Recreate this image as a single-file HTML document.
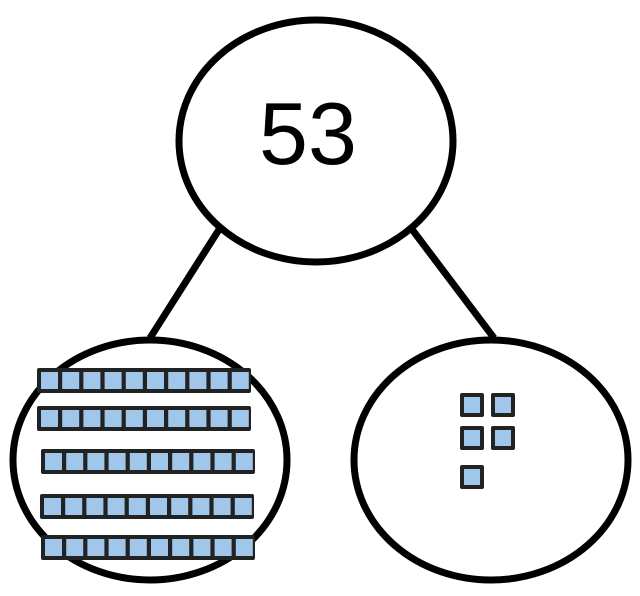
<!DOCTYPE html>
<html><head><style>html,body{margin:0;padding:0;background:#fff;}svg{display:block}</style></head>
<body>
<svg width="640" height="596" viewBox="0 0 640 596" xmlns="http://www.w3.org/2000/svg">
<g stroke="#000" stroke-width="7" fill="none">
<line x1="220" y1="228" x2="150" y2="338"/>
<line x1="411" y1="228" x2="494" y2="338"/>
<ellipse cx="316" cy="141" rx="137" ry="121" fill="#fff"/>
<ellipse cx="150" cy="460" rx="137" ry="120" fill="#fff"/>
<ellipse cx="491" cy="460" rx="137" ry="120" fill="#fff"/>
</g>
<text x="308" y="164" font-family="Liberation Sans, sans-serif" font-size="88" text-anchor="middle" fill="#000">53</text>
<defs>
<g id="rod">
<rect x="0" y="0" width="214" height="25" fill="#222" rx="2"/>
<g fill="#a0c6ea">
<rect x="4" y="4" width="17" height="17"/><rect x="25.2" y="4" width="17" height="17"/><rect x="46.4" y="4" width="17" height="17"/><rect x="67.6" y="4" width="17" height="17"/><rect x="88.8" y="4" width="17" height="17"/><rect x="110" y="4" width="17" height="17"/><rect x="131.2" y="4" width="17" height="17"/><rect x="152.4" y="4" width="17" height="17"/><rect x="173.6" y="4" width="17" height="17"/><rect x="194.8" y="4" width="17" height="17"/>
</g></g>
<g id="unit"><rect width="24" height="24" fill="#222" rx="2"/><rect x="4" y="4" width="16" height="16" fill="#a0c6ea"/></g>
</defs>
<use href="#rod" x="37" y="368"/>
<use href="#rod" x="37" y="406"/>
<use href="#rod" x="41" y="449"/>
<use href="#rod" x="40" y="494"/>
<use href="#rod" x="41" y="535"/>
<use href="#unit" x="460" y="393"/>
<use href="#unit" x="491" y="393"/>
<use href="#unit" x="460" y="426"/>
<use href="#unit" x="491" y="426"/>
<use href="#unit" x="460" y="465"/>
</svg>
</body></html>
